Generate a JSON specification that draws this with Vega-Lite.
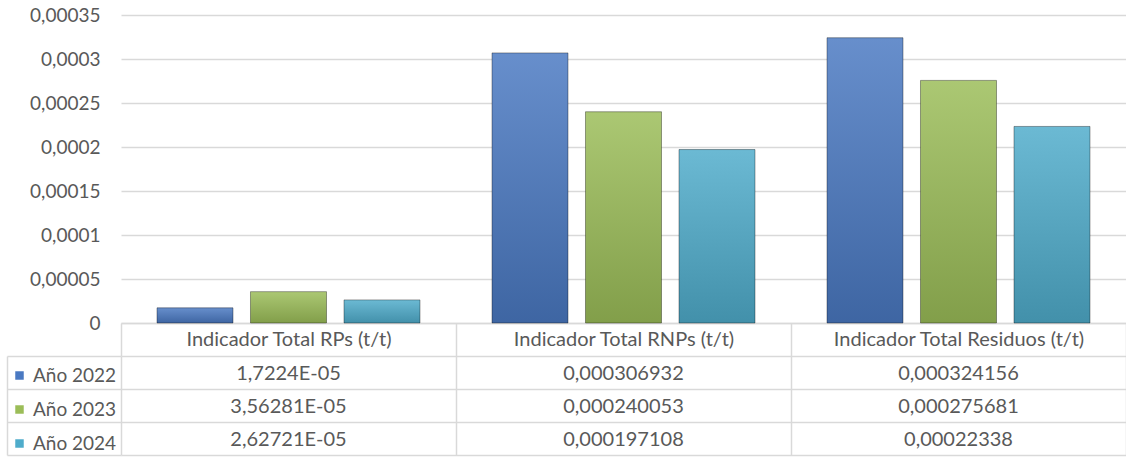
{
  "$schema": "https://vega.github.io/schema/vega-lite/v6.json",
  "padding": {"left": 6, "top": 6, "right": 0, "bottom": 1},
  "autosize": {"type": "pad"},
  "background": "white",
  "datasets": {
    "d": [
      {"indicador": "Indicador Total RPs (t/t)", "anio": "Año 2022", "valor": 0.000017224},
      {"indicador": "Indicador Total RPs (t/t)", "anio": "Año 2023", "valor": 0.0000356281},
      {"indicador": "Indicador Total RPs (t/t)", "anio": "Año 2024", "valor": 0.0000262721},
      {"indicador": "Indicador Total RNPs (t/t)", "anio": "Año 2022", "valor": 0.000306932},
      {"indicador": "Indicador Total RNPs (t/t)", "anio": "Año 2023", "valor": 0.000240053},
      {"indicador": "Indicador Total RNPs (t/t)", "anio": "Año 2024", "valor": 0.000197108},
      {"indicador": "Indicador Total Residuos (t/t)", "anio": "Año 2022", "valor": 0.000324156},
      {"indicador": "Indicador Total Residuos (t/t)", "anio": "Año 2023", "valor": 0.000275681},
      {"indicador": "Indicador Total Residuos (t/t)", "anio": "Año 2024", "valor": 0.00022338}
    ]
  },
  "config": {
    "locale": {"number": {"decimal": ",", "thousands": ".", "grouping": [3], "currency": ["", " €"]}},
    "font": "Lato",
    "view": {"stroke": null},
    "axis": {"labelFont": "Lato", "labelColor": "#595959", "labelFontSize": 19}
  },
  "spacing": 33,
  "bounds": "flush",
  "vconcat": [
    {
      "width": 1005,
      "height": 308,
      "data": {"name": "d"},
      "encoding": {
        "x": {
          "field": "indicador", "type": "nominal", "sort": null,
          "scale": {"paddingInner": 0, "paddingOuter": 0},
          "axis": {"labels": false, "ticks": false, "title": null, "domainColor": "#d9d9d9", "domainWidth": 1.5}
        },
        "xOffset": {
          "field": "anio", "type": "nominal",
          "scale": {"paddingInner": 0.187, "paddingOuter": 0.385}
        },
        "y": {
          "field": "valor", "type": "quantitative",
          "scale": {"domain": [0, 0.00035]},
          "axis": {
            "values": [0, 0.00005, 0.0001, 0.00015, 0.0002, 0.00025, 0.0003, 0.00035],
            "format": ".5~f", "title": null, "domain": false, "ticks": false,
            "labelPadding": 21, "gridColor": "#d9d9d9", "gridWidth": 1.5
          }
        }
      },
      "layer": [
        {
          "mark": {"type": "bar"},
          "encoding": {
            "color": {
              "field": "anio", "type": "nominal",
              "scale": {"domain": ["Año 2022", "Año 2023", "Año 2024"], "range": ["#4a79c2", "#9bbd58", "#4faccb"]},
              "legend": {
                "orient": "none", "legendX": -111, "legendY": 351, "direction": "vertical",
                "title": null, "symbolType": "square", "symbolSize": 72, "symbolStrokeWidth": 0,
                "labelFontSize": 19, "labelColor": "#595959", "labelFont": "Lato",
                "labelOffset": 4, "rowPadding": 14, "padding": 0
              }
            }
          }
        },
        {
          "mark": {
            "type": "bar",
            "fill": {
              "gradient": "linear", "x1": 0, "y1": 0, "x2": 0, "y2": 1,
              "stops": [
                {"offset": 0, "color": "rgba(255,255,255,0.16)"},
                {"offset": 1, "color": "rgba(0,0,0,0.16)"}
              ]
            },
            "stroke": "#000", "strokeOpacity": 0.35, "strokeWidth": 1
          }
        }
      ]
    },
    {
      "width": 1005,
      "height": 99,
      "data": {"name": "d"},
      "encoding": {
        "x": {
          "field": "indicador", "type": "nominal", "sort": null,
          "scale": {"paddingInner": 0, "paddingOuter": 0},
          "axis": {
            "orient": "top", "title": null, "domain": false, "grid": true, "tickBand": "extent",
            "ticks": true, "tickSize": 33, "tickColor": "#d9d9d9", "tickWidth": 1.5,
            "gridColor": "#d9d9d9", "gridWidth": 1.5, "labelFontSize": 20, "labelLimit": 0,
            "labelPadding": -16, "labelBaseline": "middle", "labelAngle": 0
          }
        },
        "y": {
          "field": "anio", "type": "nominal",
          "scale": {"domain": ["Año 2022", "Año 2023", "Año 2024"], "paddingInner": 0, "paddingOuter": 0},
          "axis": {
            "title": null, "labels": false, "grid": true, "tickBand": "extent",
            "ticks": true, "tickSize": -114, "offset": 114, "tickColor": "#d9d9d9", "tickWidth": 1.5,
            "domain": true, "domainColor": "#d9d9d9", "domainWidth": 1.5,
            "gridColor": "#d9d9d9", "gridWidth": 1.5
          }
        }
      },
      "layer": [
        {
          "transform": [
            {"calculate": "datum.valor < 0.0001 ? replace(replace(format(datum.valor, '.6~e'), 'e-', 'E-0'), '.', ',') : replace(format(datum.valor, '.9~f'), '.', ',')", "as": "etiqueta"}
          ],
          "mark": {"type": "text", "fontSize": 20, "color": "#595959", "font": "Lato", "dy": 1},
          "encoding": {"text": {"field": "etiqueta", "type": "nominal"}}
        }
      ]
    }
  ]
}
